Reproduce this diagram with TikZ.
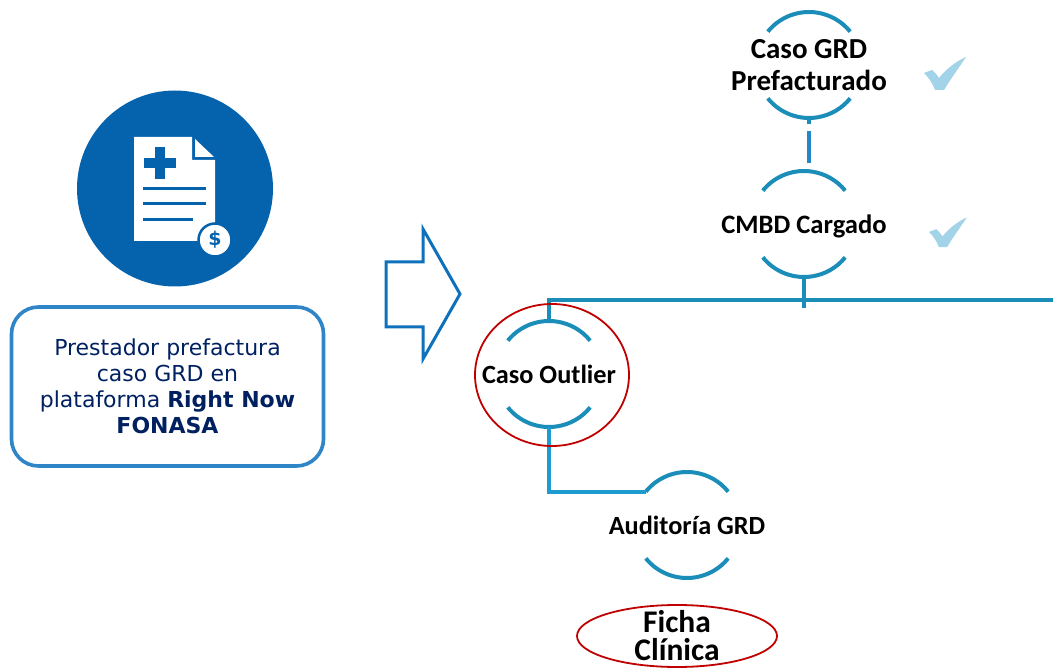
\documentclass[tikz,border=0pt]{standalone}
\usepackage{fontspec}
\setmainfont{Carlito}
\newfontfamily\boxfont{DejaVu Sans}
\usepackage{tikz}
\usetikzlibrary{calc}
\usetikzlibrary{shapes.geometric}
\usepackage{xcolor}
\definecolor{iconblue}{HTML}{0563AD}
\definecolor{boxblue}{HTML}{2E86C8}
\definecolor{arrowblue}{HTML}{0F70BC}
\definecolor{arcblue}{HTML}{1A8DB8}
\definecolor{linkblue}{HTML}{2586C8}
\definecolor{downblue}{HTML}{1E9BCF}
\definecolor{tickblue}{HTML}{A2D3E8}
\definecolor{ringred}{HTML}{C00000}
\definecolor{textnavy}{HTML}{002060}
\tikzset{
	stagering/.style={circle, minimum size=106pt, inner sep=0pt, outer sep=0pt},
	stagelabel/.style={align=center, inner sep=0pt, font=\fontsize{26.3}{32}\selectfont\bfseries},
	arcline/.style={draw=arcblue, line width=4pt},
	redring/.style={ellipse, draw=ringred, line width=1.8pt, inner sep=0pt},
	iconline/.style={draw=iconblue, line width=3pt},
	tickmark/.style={fill=tickblue, draw=none}
}
\newcommand{\stagearcs}[1]{
	\draw [arcline] (#1.141) arc [start angle=141, end angle=39, radius=53pt];
	\draw [arcline] (#1.219) arc [start angle=219, end angle=321, radius=53pt];
}
\begin{document}
\begin{tikzpicture}[x=1pt, y=-1pt]
	\useasboundingbox (0, 0) rectangle (1053, 668);

	\node [circle, fill=iconblue, minimum size=196pt, inner sep=0pt] (icon) at (175, 188.5) {};
	\fill [white] (134, 137) -- (192, 137) -- (192, 160) -- (215, 160) -- (215, 241) -- (134, 241) -- cycle;
	\fill [white] (195, 139) -- (195, 157) -- (214, 157) -- cycle;
	\fill [iconblue] (155, 147) rectangle (165, 179);
	\fill [iconblue] (144, 158) rectangle (176, 168);
	\draw [iconline] (143, 189) -- (206, 189);
	\draw [iconline] (143, 204) -- (206, 204);
	\draw [iconline] (143, 220) -- (193, 220);
	\node [circle, fill=white, draw=iconblue, line width=2.5pt, minimum size=33pt, inner sep=0pt,
		text=iconblue, font=\boxfont\fontsize{19}{19}\selectfont\bfseries] (dollar) at (215, 240) {\$};

	\node [draw=boxblue, line width=3.6pt, rounded corners=27pt, minimum width=312pt, minimum height=159pt,
		align=center, text=textnavy, font=\boxfont\fontsize{22}{26}\selectfont] (prefactura) at (167.5, 386.5)
		{Prestador prefactura\\caso GRD en\\plataforma \textbf{Right Now}\\\textbf{FONASA}};

	\coordinate (A) at (386, 262);
	\coordinate (B) at (423, 262);
	\coordinate (C) at (423, 229);
	\coordinate (D) at (460, 294);
	\coordinate (E) at (423, 359);
	\coordinate (F) at (423, 327);
	\coordinate (G) at (386, 327);
	\draw [arrowblue, line width=3pt, miter limit=6] (A) -- (B) -- (C) -- (D) -- (E) -- (F) -- (G) -- cycle;

	\node [stagering] (grd) at (809, 65) {};
	\node [stagering] (cmbd) at (804, 224) {};
	\node [stagering] (outlier) at (549, 374) {};
	\node [stagering] (auditoria) at (687, 525) {};
	\stagearcs{grd}
	\stagearcs{cmbd}
	\stagearcs{outlier}
	\stagearcs{auditoria}

	\node [stagelabel, font=\fontsize{29}{32}\selectfont\bfseries] (grdtext) at (grd) {Caso GRD\\Prefacturado};
	\node [stagelabel, font=\fontsize{26.6}{32}\selectfont\bfseries] (cmbdtext) at (804, 226) {CMBD Cargado};
	\node [stagelabel] (outliertext) at (outlier) {Caso Outlier};
	\node [stagelabel] (auditoriatext) at (auditoria) {Auditoría GRD};

	\coordinate (grdstub) at ($(grd.south) + (0, 6)$);
	\coordinate (linktop) at ($(grd.south) + (0, 13)$);
	\coordinate (linkend) at ($(cmbd.north) + (5, -8)$);
	\coordinate (busleft) at (outlier.north |- 0, 300);
	\coordinate (busright) at (1053, 300);
	\coordinate (cmbdend) at ($(cmbd.south) + (0, 31)$);
	\coordinate (elbow) at (outlier.south |- auditoria.141);

	\draw [arcblue, line width=4pt] (grd.south) -- (grdstub);
	\draw [linkblue, line width=4.6pt] (linktop) -- (linkend);
	\draw [arcblue, line width=4pt] (busright) -- (busleft) -- (outlier.north);
	\draw [arcblue, line width=4pt] (cmbd.south) -- (cmbdend);
	\draw [downblue, line width=4pt] (outlier.south) -- (elbow) -- (auditoria.141);

	\node [redring, minimum width=154pt, minimum height=142pt] (outlierring) at (552, 375) {};
	\node [redring, minimum width=200pt, minimum height=62pt] (ficharing) at (677, 636) {};
	\node [align=center, inner sep=0pt, font=\fontsize{31.5}{28}\selectfont\bfseries] (fichatext) at (677, 636) {Ficha\\Clínica};

	\foreach \tx/\ty/\ts in {924/72/1, 929/231/0.9} {
		\fill [tickmark, shift={(\tx, \ty)}, scale=\ts]
			(0, 1) -- (8, -2) .. controls (11, 0) and (13, 3) .. (15, 6)
			.. controls (23, -4) and (33, -11) .. (42, -15)
			.. controls (34, -3) and (26, 8) .. (20, 18)
			-- (11, 18) .. controls (9, 12) and (5, 6) .. (0, 1) -- cycle;
	}
\end{tikzpicture}
\end{document}
